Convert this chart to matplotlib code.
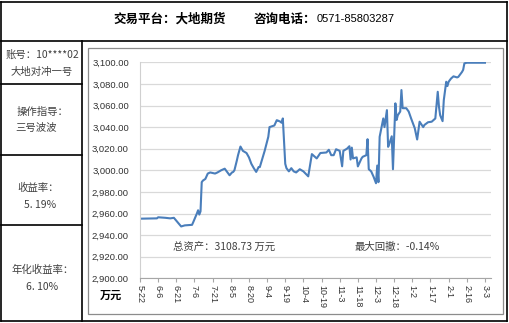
import pandas as pd
import matplotlib.pyplot as plt
from matplotlib.lines import Line2D
from matplotlib.patches import Rectangle

plt.rcParams['font.family'] = ['Noto Sans CJK SC', 'DejaVu Sans']

# Données (jours depuis le 2013-05-22, valeur en 万元)
jours = [0, 14, 15, 21, 25, 28, 31, 34, 37, 43,
         44, 47, 48, 49, 50, 51, 52, 54, 56, 58,
         62, 64, 67, 70, 72, 74, 76, 77, 78, 80,
         81, 83, 85, 88, 90, 92, 94, 96, 98, 99,
         103, 106, 107, 111, 113, 114, 116, 117, 118, 120,
         121, 123, 125, 127, 129, 132, 135, 139, 142, 146,
         149, 154, 156, 158, 160, 162, 165, 167, 168, 171,
         173, 174, 175, 176, 179, 180, 183, 184, 187, 188,
         189, 191, 193, 195, 196, 197, 198, 200, 201, 202,
         204, 205, 206, 208, 209, 211, 212, 213, 215, 216,
         217, 220, 222, 224, 227, 229, 231, 234, 235, 238,
         241, 243, 244, 246, 247, 248, 250, 251, 253, 254,
         255, 257, 259, 262, 263, 264, 266, 267, 268, 270,
         285]
valeurs = [2955.2, 2955.5, 2956.5, 2956, 2955.5, 2956, 2952, 2948, 2949, 2949.5,
           2952, 2960, 2963, 2959, 2962, 2989, 2990.5, 2992, 2997, 2998,
           2997, 2998, 3000, 3001.5, 2998.5, 2995.4, 2998, 2998.5, 3000, 3009,
           3014, 3022, 3018, 3016, 3012, 3006, 3002, 2998.5, 3003, 3003,
           3018, 3031, 3040, 3041.5, 3046.4, 3046, 3045, 3044, 3048, 3006,
           3002, 2999, 3002, 2999, 2998, 3001, 2999, 2994.4, 3015, 3011,
           3016, 3016.5, 3019, 3014, 3014, 3019.5, 3018, 3003.7, 3018, 3020,
           3022.3, 3010, 3021, 3011, 3012, 3003.6, 3011, 3012.5, 3014, 3028.8,
           3001, 2999, 2994, 2988, 3004.4, 2989, 3031, 3042, 3048, 3040,
           3055.7, 3021.7, 3024.5, 3031.5, 3001, 3062, 3046.6, 3051, 3054.4, 3074.3,
           3057.5, 3057.5, 3054.4, 3048, 3039, 3028.5, 3045, 3040, 3042, 3044.5,
           3045, 3047, 3048, 3072.7, 3059, 3051, 3045.5, 3065, 3082, 3078,
           3082, 3085, 3087, 3086, 3086.5, 3088, 3091, 3093, 3099, 3099.6,
           3099.6]

debut = pd.Timestamp("2013-05-22")
dates = debut + pd.to_timedelta(jours, unit="D")
ticks = [debut + pd.Timedelta(days=15 * k) for k in range(20)]
tick_labels = [f"{t.month}-{t.day}" for t in ticks]
y_ticks = [2900, 2920, 2940, 2960, 2980, 3000, 3020, 3040, 3060, 3080, 3100]

W, H = 510, 323
fig = plt.figure(figsize=(W / 100, H / 100), dpi=100)

def ligne(x0, y0, x1, y1, c="black", lw=1.2):
    fig.add_artist(Line2D([x0 / W, x1 / W], [1 - y0 / H, 1 - y1 / H],
                          color=c, lw=lw, transform=fig.transFigure))

# Cadre du tableau
ligne(1.5, 1.5, 507.5, 1.5)
ligne(1.5, 321, 507.5, 321)
ligne(1.5, 1.5, 1.5, 321)
ligne(507.5, 1.5, 507.5, 321)
ligne(1.5, 40.5, 507.5, 40.5)
ligne(82, 40.5, 82, 321)
for y in [83.5, 155, 225]:
    ligne(1.5, y, 82, y)
fig.add_artist(Rectangle((88 / W, 1 - 314 / H), (503 - 88) / W, (314 - 48) / H,
                         fill=False, ec="#8c8c8c", lw=0.9, transform=fig.transFigure))

# Titre
fig.text(170 / W, 1 - 19 / H, "交易平台：大地期货", ha="center", va="center",
         fontsize=9, fontweight="bold")
fig.text(285 / W, 1 - 19 / H, "咨询电话：", ha="center", va="center",
         fontsize=9, fontweight="bold")
fig.text(317 / W, 1 - 19.5 / H, "0571-85803287", ha="left", va="center",
         fontsize=8, family="Liberation Sans")

# Colonne de gauche
gris = "#404040"
gauche = [("账号：10****02", 42, 55), ("大地对冲一号", 42, 72),
          ("操作指导：", 43, 112), ("三号波波", 36, 128),
          ("收益率：", 38, 188), ("5. 19%", 40, 205),
          ("年化收益率：", 43, 270), ("6. 10%", 42, 287)]
for txt, x, y in gauche:
    fig.text(x / W, 1 - y / H, txt, ha="center", va="center", fontsize=7.5, color=gris)

# Graphique
ax = fig.add_axes([140 / W, 1 - 278.3 / H, (491 - 140) / W, (278.3 - 62.3) / H])
ax.plot(dates, valeurs, color="#4a7ebb", lw=1.5)
ax.set_ylim(2900, 3100)
ax.set_xlim(debut, debut + pd.Timedelta(days=290))
ax.set_yticks(y_ticks)
ax.set_yticklabels([f"{v:,.2f}" for v in y_ticks], family="Liberation Sans",
                   fontsize=6.8, color="#333333")
ax.set_xticks(ticks)
ax.set_xticklabels(tick_labels, rotation=270, family="Liberation Sans",
                   fontsize=6.5, color="#333333")
ax.grid(axis="y", color="#d9d9d9", lw=0.9)
ax.set_axisbelow(True)
for s in ["top", "right"]:
    ax.spines[s].set_visible(False)
ax.spines["left"].set_color("#d0d0d0")
ax.spines["bottom"].set_color("#a6a6a6")
ax.tick_params(axis="y", length=0, pad=8)
ax.tick_params(axis="x", length=3, color="#a6a6a6", pad=2)

fig.text(111 / W, 1 - 295 / H, "万元", ha="center", va="center",
         fontsize=8, fontweight="bold")
fig.text(224 / W, 1 - 247 / H, "总资产：3108.73 万元", ha="center", va="center",
         fontsize=7.5, color=gris)
fig.text(397 / W, 1 - 246.5 / H, "最大回撤：-0.14%", ha="center", va="center",
         fontsize=7.5, color=gris)

fig.savefig("out.png", dpi=100)
plt.close()
